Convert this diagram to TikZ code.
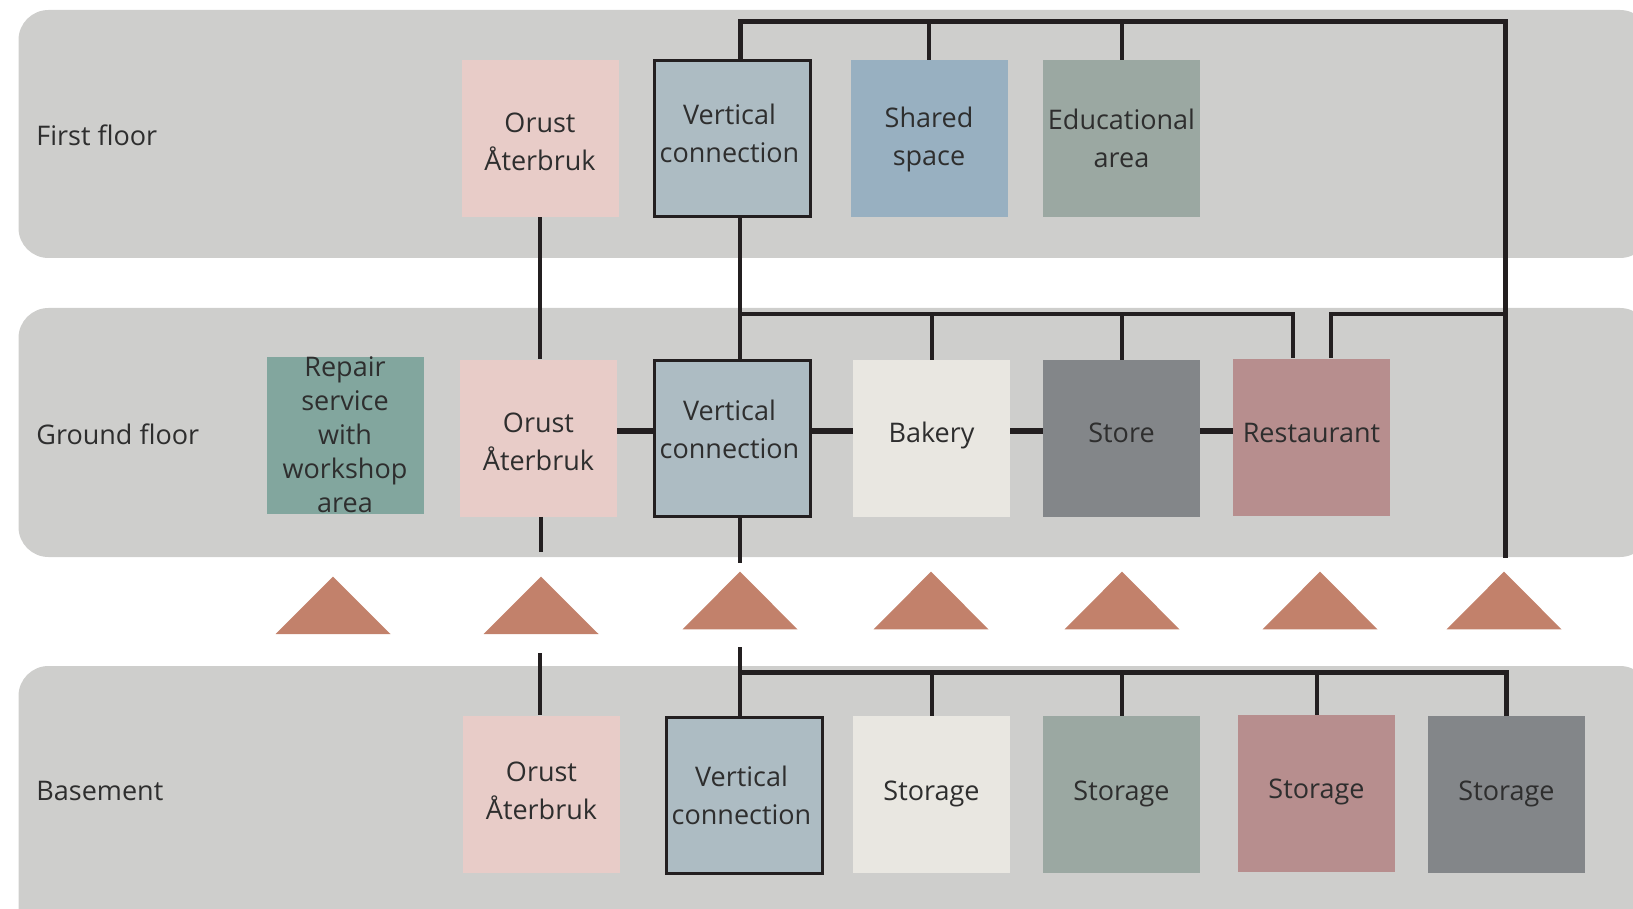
\documentclass[tikz,border=0pt]{standalone}
\usepackage{fontspec}
\setmainfont{Open Sans}
\usetikzlibrary{calc}
\definecolor{bandc}{HTML}{CECECC}
\definecolor{linec}{HTML}{231F20}
\definecolor{txtc}{HTML}{2E2E2E}
\definecolor{pinkc}{HTML}{E8CCC8}
\definecolor{vcc}{HTML}{ADBCC3}
\definecolor{sharedc}{HTML}{98B0C1}
\definecolor{eduC}{HTML}{9BA8A2}
\definecolor{repairc}{HTML}{82A69E}
\definecolor{creamc}{HTML}{E9E7E1}
\definecolor{storec}{HTML}{838689}
\definecolor{restc}{HTML}{B78E8E}
\definecolor{tric}{HTML}{C2816B}
\newcommand\rtxt[2]{\raisebox{#1}[\height][\depth]{\begin{tabular}{@{}c@{}}#2\end{tabular}}}
\begin{document}
\begin{tikzpicture}[x=0.5pt,y=-0.5pt,
  room/.style={minimum width=78.5pt,minimum height=78.5pt,inner sep=0pt,text=txtc,font=\fontsize{13.5}{19}\selectfont},
  vcbox/.style={room,draw=linec,line width=1.5pt,fill=vcc,minimum width=78pt,minimum height=78pt},
  conn/.style={draw=linec,line width=2pt},
  thickconn/.style={draw=linec,line width=2.5pt},
  link/.style={draw=linec,line width=3pt},
  floorlabel/.style={anchor=west,inner sep=0pt,text=txtc,font=\fontsize{13.5}{16}\selectfont},
  tri/.style={fill=tric},
  band/.style={fill=bandc,rounded corners=15pt}]
\useasboundingbox (0,0) rectangle (1633,909);
\clip (0,0) rectangle (1633,909);
% floor bands
\path[band] (18.5,10) rectangle (1650,258);
\path[band] (18.5,308) rectangle (1650,557);
\path[band] (18.5,666) rectangle (1650,960);
% floor labels
\node[floorlabel] (lf) at (36,135) {First floor};
\node[floorlabel] (lg) at (36,434) {Ground floor};
\node[floorlabel] (lb) at (36,791) {Basement};
% first floor rooms
\node[room,fill=pinkc] (fO) at (540,138.5) {\rtxt{-2.7pt}{Orust\\Återbruk}};
\node[vcbox] (fV) at (732.5,138.5) {\hspace*{-3pt}\rtxt{1.2pt}{Vertical\\connection}};
\node[room,fill=sharedc] (fS) at (929,138.5) {\rtxt{0pt}{Shared\\space}};
\node[room,fill=eduC] (fE) at (1121.5,138.5) {\rtxt{-1pt}{Educational\\area}};
% ground floor rooms
\node[room,fill=repairc,align=center,font=\fontsize{13.5}{17}\selectfont] (gRep) at (345,435) {Repair\\service\\with\\workshop\\area};
\node[room,fill=pinkc] (gO) at (538.5,438) {\rtxt{-2.8pt}{Orust\\Återbruk}};
\node[vcbox] (gV) at (732.5,438.5) {\hspace*{-3pt}\rtxt{3.3pt}{Vertical\\connection}};
\node[room,fill=creamc] (gB) at (931.5,438.5) {\rtxt{1.7pt}{Bakery}};
\node[room,fill=storec] (gS) at (1121.5,438.5) {\rtxt{1.7pt}{Store}};
\node[room,fill=restc] (gR) at (1311.5,437) {\rtxt{1.2pt}{Restaurant}};
% basement rooms
\node[room,fill=pinkc] (bO) at (541.5,794) {\rtxt{0.6pt}{Orust\\Återbruk}};
\node[vcbox] (bV) at (744.5,795) {\hspace*{-3pt}\rtxt{-1.2pt}{Vertical\\connection}};
\node[room,fill=creamc] (bS1) at (931.5,794.5) {\rtxt{0.8pt}{Storage}};
\node[room,fill=eduC] (bS2) at (1121.5,794.5) {\rtxt{0.8pt}{Storage}};
\node[room,fill=restc] (bS3) at (1316.5,793.5) {\rtxt{1.2pt}{Storage}};
\node[room,fill=storec] (bS4) at (1506.5,794.5) {\rtxt{0.8pt}{Storage}};
% coordinates
\coordinate (vx) at (740,0);
\coordinate (topR) at (1505,21.7);
\coordinate (riserEnd) at (1505,558);
\coordinate (gbus) at (740,314);
\coordinate (gbusR) at (1505,314);
\coordinate (ly) at (0,431);
\coordinate (gOend) at (541,552);
\coordinate (gVend) at (740,563);
\coordinate (bOtop) at (540,653);
\coordinate (bVtop) at (740,647);
\coordinate (bbus) at (740,672);
\coordinate (bbusR) at (1506,672);
% first floor connections
\draw[thickconn] (fV.north -| vx) |- (topR) -- (riserEnd);
\draw[conn] (fS.north) -- (fS.north |- topR);
\draw[conn] (fE.north) -- (fE.north |- topR);
\draw[conn] (fO.south) -- (fO.south |- gO.north);
\draw[conn] (fV.south -| vx) -- (gV.north -| vx);
% ground floor bus
\draw[conn] (gbus) -| ([xshift=-9.5pt]gR.north);
\draw[conn] (gB.north) -- (gB.north |- gbus);
\draw[conn] (gS.north) -- (gS.north |- gbus);
\draw[conn] ([xshift=9.5pt]gR.north) |- (gbusR);
% ground floor links
\draw[link] (gO.east |- ly) -- (gV.west |- ly);
\draw[link] (gV.east |- ly) -- (gB.west |- ly);
\draw[link] (gB.east |- ly) -- (gS.west |- ly);
\draw[link] (gS.east |- ly) -- (gR.west |- ly);
% stubs below ground floor
\draw[conn] (gO.south -| gOend) -- (gOend);
\draw[conn] (gV.south -| gVend) -- (gVend);
% basement connections
\draw[conn] (bOtop) -- (bOtop |- bO.north);
\draw[conn] (bVtop) -- (bVtop |- bV.north);
\draw[thickconn] (bbus) -- (bbusR) -- (bbusR |- bS4.north);
\draw[conn] (bS1.north) -- (bS1.north |- bbus);
\draw[conn] (bS2.north) -- (bS2.north |- bbus);
\draw[conn] (bS3.north) -- (bS3.north |- bbus);
% triangles
\fill[tri] (275.5,634) -- (390.5,634) -- (333,576.7) -- cycle;
\fill[tri] (483.5,634) -- (598.5,634) -- (541,576.7) -- cycle;
\fill[tri] (682.5,629.3) -- (797.5,629.3) -- (740,571.7) -- cycle;
\fill[tri] (873.5,629.3) -- (988.5,629.3) -- (931,571.7) -- cycle;
\fill[tri] (1064.5,629.3) -- (1179.5,629.3) -- (1122,571.7) -- cycle;
\fill[tri] (1262.5,629.3) -- (1377.5,629.3) -- (1320,571.7) -- cycle;
\fill[tri] (1446.5,629.3) -- (1561.5,629.3) -- (1504,571.7) -- cycle;
\end{tikzpicture}
\end{document}
